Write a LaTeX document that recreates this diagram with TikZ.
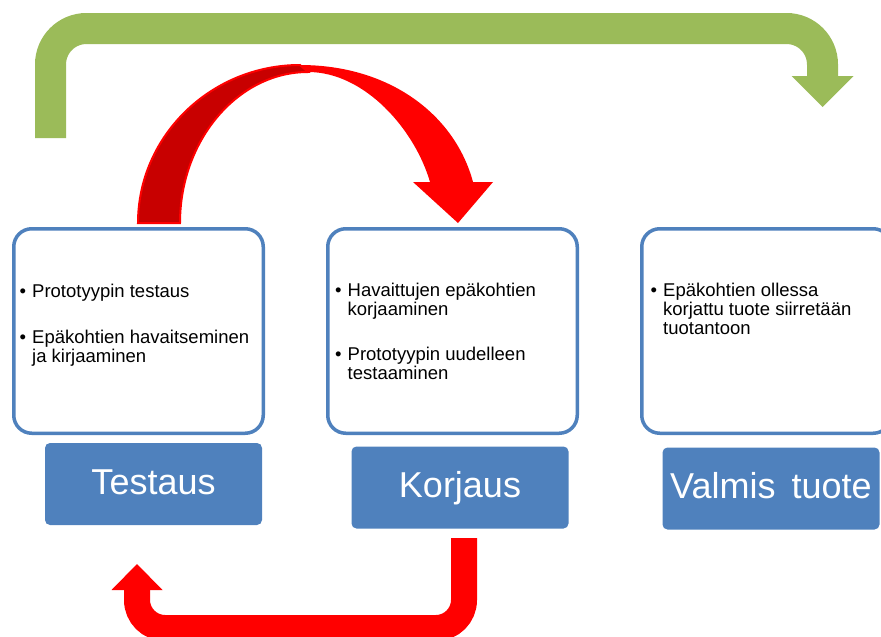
\documentclass[tikz,border=0pt]{standalone}
\usepackage{fontspec}
\setmainfont{Liberation Sans}
\usetikzlibrary{arrows.meta}
\definecolor{officeblue}{HTML}{4F81BD}
\definecolor{officegreen}{HTML}{9BBB59}
\definecolor{backred}{HTML}{C80000}

\begin{document}
\begin{tikzpicture}[x=1pt, y=-1pt,
    vaihe/.style={draw=officeblue, line width=3.5pt, fill=white, rounded corners=18pt,
        minimum width=249.5pt, minimum height=204.5pt},
    otsikko/.style={fill=officeblue, rounded corners=5pt, inner sep=0pt,
        minimum width=217pt, minimum height=82pt, text=white,
        font=\fontsize{36}{40}\selectfont, text height=28pt, text depth=8pt},
    kohdat/.style={anchor=north west, inner sep=0pt, font=\fontsize{18.5}{19}\selectfont},
    vihrea/.style={draw=officegreen, line width=31pt, rounded corners=36pt,
        -{Triangle[length=31pt, width=62pt, line width=0pt]}},
    punainen/.style={draw=red, line width=26pt, rounded corners=28pt,
        -{Triangle[length=26pt, width=51pt, line width=0pt]}}]

        \useasboundingbox (0,0) rectangle (881,637);
        \clip (0,0) rectangle (881,637);

        % Laatikko TESTAUS
        \node[vaihe] (testbox) at (138.5, 331) {};
        \node[kohdat] (testlist) at (19.5, 283.7) {
            \begin{tabular}{@{}l@{\hspace{6pt}}l@{}}
            \textbullet & Prototyypin testaus \\[27pt]
            \textbullet & Epäkohtien havaitseminen \\
                        & ja kirjaaminen
            \end{tabular}
        };
        \node[otsikko] (testaus) at (153.5, 484) {Testaus};

        % Laatikko KORJAUS
        \node[vaihe] (korbox) at (452.5, 331) {};
        \node[kohdat] (korlist) at (335, 282.7) {
            \begin{tabular}{@{}l@{\hspace{6pt}}l@{}}
            \textbullet & Havaittujen epäkohtien \\
                        & korjaaminen \\[26pt]
            \textbullet & Prototyypin uudelleen \\
                        & testaaminen
            \end{tabular}
        };
        \node[otsikko] (korjaus) at (460, 487.5) {Korjaus};

        % Laatikko VALMIS TUOTE (leikkautuu oikeasta reunasta)
        \node[vaihe] (valbox) at (766.5, 331) {};
        \node[kohdat] (vallist) at (650.5, 282.7) {
            \begin{tabular}{@{}l@{\hspace{6pt}}l@{}}
            \textbullet & Epäkohtien ollessa \\
                        & korjattu tuote siirretään \\
                        & tuotantoon
            \end{tabular}
        };
        \node[otsikko] (valmis) at (771, 488.5) {Valmis\hspace{0.45em}tuote};

        % ========================================================
        % NUOLET
        % ========================================================

        % TESTAUS -> VALMIS TUOTE (vihreä nuoli ylhäällä)
        \coordinate (g-alku) at (50.5, 138);
        \coordinate (g-kulma) at (822.5, 28.5);
        \coordinate (g-loppu) at (822.5, 107);
        \draw[vihrea] (g-alku) |- (g-kulma) -- (g-loppu);

        % TESTAUS -> KORJAUS (kaareva nuoli, takapinta tummempi)
        \filldraw[fill=backred, draw=red, line width=2pt]
            (138,223) .. controls (138,136) and (211,65) .. (300,65)
            -- (308,72) .. controls (238,72) and (180,140) .. (180,223) -- cycle;
        \fill[red]
            (300,65) .. controls (390,65) and (455,115) .. (473,182)
            -- (493,182) -- (458,223) -- (413,182) -- (430,182)
            .. controls (415,130) and (365,72) .. (308,72) -- cycle;

        % KORJAUS -> TESTAUS (alhaalla takaisin)
        \coordinate (p-alku) at (464, 538);
        \coordinate (p-kulma) at (137, 628);
        \coordinate (p-loppu) at (137, 564);
        \draw[punainen] (p-alku) |- (p-kulma) -- (p-loppu);

\end{tikzpicture}
\end{document}
